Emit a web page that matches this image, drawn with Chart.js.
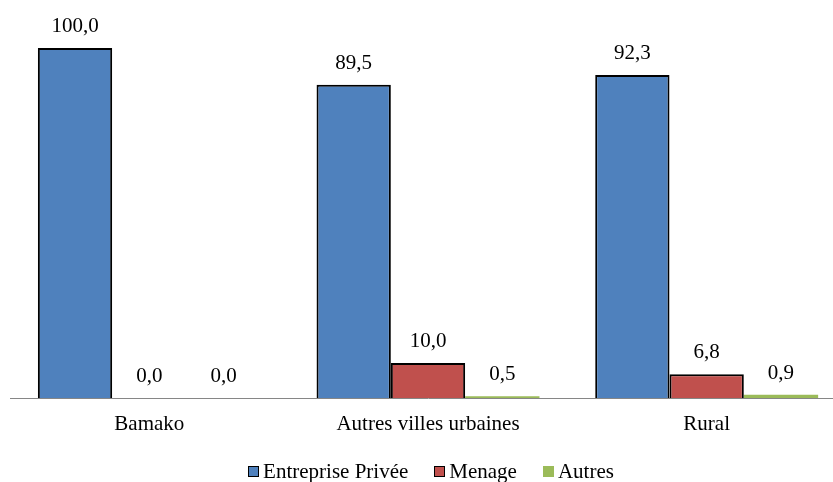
<!DOCTYPE html>
<html>
<head>
<meta charset="utf-8">
<script src="https://cdn.jsdelivr.net/npm/chart.js@4"></script>
<style>
    html, body { margin: 0; padding: 0; background: #fff; overflow: hidden; }
    #wrap { position: relative; width: 833px; height: 482px; overflow: hidden; }
    #legend {
        position: absolute; left: 0; top: 461px; width: 862px;
        display: flex; justify-content: center; align-items: center;
        font: 21px 'Times New Roman', 'Liberation Serif', serif; line-height: 21px; color: #000;
    }
    .legend-item { display: flex; align-items: center; margin: 0 13px; }
    .legend-box { width: 11px; height: 11px; box-sizing: border-box; margin-right: 4px; }
</style>
</head>
<body>
<div id="wrap">
    <canvas id="bar-chart" width="856" height="482"></canvas>
    <div id="legend"></div>
</div>
<script>
const categories = ['Bamako', 'Autres villes urbaines', 'Rural'];
const seriesNames = ['Entreprise Privée', 'Menage', 'Autres'];
const entreprise = [100.0, 89.5, 92.3];
const menage = [0.0, 10.0, 6.8];
const autres = [0.0, 0.5, 0.9];

const serif = "'Times New Roman', 'Liberation Serif', serif";
const ctx = document.getElementById('bar-chart').getContext('2d');
const legendContainer = document.getElementById('legend');

function formatValue(v) {
    return v.toFixed(1).replace('.', ',');
}

// draws the value above each bar
const valueLabels = {
    id: 'valueLabels',
    afterDatasetsDraw(chart) {
        const c = chart.ctx;
        c.save();
        c.font = '21px ' + serif;
        c.fillStyle = '#000';
        c.textAlign = 'center';
        c.textBaseline = 'alphabetic';
        chart.data.datasets.forEach((ds, i) => {
            chart.getDatasetMeta(i).data.forEach((bar, j) => {
                c.fillText(formatValue(ds.data[j]), bar.x, bar.y - 16);
            });
        });
        c.restore();
    }
};

function renderLegend(chart) {
    legendContainer.innerHTML = '';
    chart.data.datasets.forEach(ds => {
        const item = document.createElement('div');
        item.classList.add('legend-item');

        const box = document.createElement('span');
        box.classList.add('legend-box');
        box.style.background = ds.backgroundColor;
        if (ds.borderWidth) box.style.border = '1.5px solid ' + ds.borderColor;

        const text = document.createElement('span');
        text.textContent = ds.label;

        item.append(box, text);
        legendContainer.appendChild(item);
    });
}

const chart = new Chart(ctx, {
    type: 'bar',
    data: {
        labels: categories,
        datasets: [
            {
                label: seriesNames[0],
                data: entreprise,
                backgroundColor: '#4F81BD',
                borderColor: '#000',
                borderWidth: 2
            },
            {
                label: seriesNames[1],
                data: menage,
                backgroundColor: '#C0504D',
                borderColor: '#000',
                borderWidth: 2
            },
            {
                label: seriesNames[2],
                data: autres,
                backgroundColor: '#9BBB59',
                borderWidth: 0
            }
        ]
    },
    options: {
        responsive: false,
        animation: false,
        categoryPercentage: 0.8,
        barPercentage: 1.0,
        layout: {
            padding: { top: 48, left: 10, right: 10, bottom: 0 }
        },
        scales: {
            x: {
                grid: { display: false },
                border: { display: true, color: '#868686', width: 1 },
                ticks: {
                    color: '#000',
                    padding: 6,
                    font: { family: serif, size: 21 }
                },
                afterFit: (scale) => { scale.height = 84; }
            },
            y: {
                display: false,
                min: 0,
                max: 100
            }
        },
        plugins: {
            legend: { display: false },
            tooltip: { enabled: false }
        }
    },
    plugins: [valueLabels]
});

renderLegend(chart);
</script>
</body>
</html>
